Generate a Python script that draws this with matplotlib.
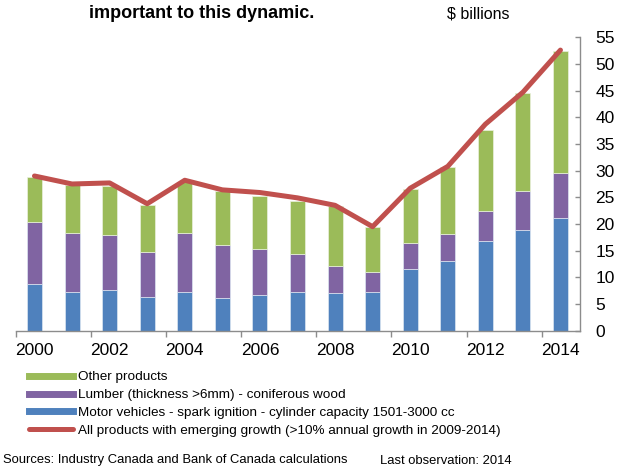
import matplotlib
matplotlib.use("Agg")
import matplotlib.pyplot as plt
from matplotlib.lines import Line2D
import numpy as np

plt.rcParams['font.family'] = ['Liberation Sans', 'DejaVu Sans']

years = [2000, 2001, 2002, 2003, 2004, 2005, 2006, 2007, 2008, 2009, 2010, 2011, 2012, 2013, 2014]
motor_vehicles = [8.8, 7.3, 7.7, 6.3, 7.3, 6.2, 6.7, 7.3, 7.0, 7.3, 11.6, 13.0, 16.9, 18.8, 21.2]
lumber = [11.5, 11.0, 10.3, 8.4, 11.0, 9.8, 8.6, 7.0, 5.1, 3.7, 4.8, 5.2, 5.6, 7.3, 8.3]
other_products = [8.6, 9.1, 9.2, 8.9, 9.5, 10.1, 10.0, 10.1, 11.3, 8.4, 10.2, 12.4, 15.2, 18.4, 22.9]
all_emerging = [29.0, 27.5, 27.7, 23.8, 28.2, 26.4, 25.9, 24.9, 23.5, 19.5, 26.7, 30.8, 38.7, 44.7, 52.6]

blue = '#4F81BD'
purple = '#8064A2'
green = '#9BBB59'
red = '#C0504D'
grey = '#8C8C8C'

fig = plt.figure(figsize=(6.18, 4.69), dpi=100)
ax = fig.add_axes([0.0254, 0.2949, 0.9131, 0.6256])

x = np.arange(len(years))
mv = np.array(motor_vehicles)
lb = np.array(lumber)
ot = np.array(other_products)

ax.bar(x, mv, 0.4, color=blue, edgecolor='#DCE6F2', linewidth=0.5, zorder=2)
ax.bar(x, lb, 0.4, bottom=mv, color=purple, edgecolor='#DCE6F2', linewidth=0.5, zorder=2)
ax.bar(x, ot, 0.4, bottom=mv + lb, color=green, edgecolor='#EBF1DE', linewidth=0.5, zorder=2)
ax.plot(x, all_emerging, color=red, lw=3.6, solid_capstyle='round', solid_joinstyle='round', zorder=3)

ax.set_xlim(-0.5, 14.52)
ax.set_ylim(0, 55)

# y axis on the right
ax.yaxis.tick_right()
ax.set_yticks(range(0, 56, 5))
ax.tick_params(axis='y', direction='in', length=3.6, width=1, color=grey, pad=11, labelsize=12.5)

# x labels every second year, ticks at category edges
ax.set_xticks(x[::2])
ax.set_xticklabels([str(y) for y in years[::2]])
ax.set_xticks(np.arange(-0.5, 14, 2), minor=True)
ax.tick_params(axis='x', which='major', length=0, pad=9, labelsize=12.5)
ax.tick_params(axis='x', which='minor', direction='out', length=4, width=1, color=grey)

for s in ['top', 'left']:
    ax.spines[s].set_visible(False)
for s in ['bottom', 'right']:
    ax.spines[s].set_color(grey)
    ax.spines[s].set_linewidth(1)

fig.text(202 / 618, 1 - 14 / 469, 'important to this dynamic.', fontsize=13, fontweight='bold',
         ha='center', va='center')
fig.text(478 / 618, 1 - 14 / 469, '$ billions', fontsize=11.5, ha='center', va='center')

handles = [
    Line2D([], [], color=green, lw=5),
    Line2D([], [], color=purple, lw=5),
    Line2D([], [], color=blue, lw=5),
    Line2D([], [], color=red, lw=3.6, solid_capstyle='round'),
]
labels = [
    'Other products',
    'Lumber (thickness >6mm) - coniferous wood',
    'Motor vehicles - spark ignition - cylinder capacity 1501-3000 cc',
    'All products with emerging growth (>10% annual growth in 2009-2014)',
]
fig.legend(handles, labels, loc='upper left', bbox_to_anchor=(29 / 618, 1 - 371 / 469),
           frameon=False, fontsize=9.7, borderpad=0, borderaxespad=0,
           handlelength=3.3, handletextpad=0.37, labelspacing=0.4)

fig.text(3 / 618, 1 - 460 / 469, 'Sources: Industry Canada and Bank of Canada calculations',
         fontsize=9.4, ha='left', va='center')
fig.text(512 / 618, 1 - 461 / 469, 'Last observation: 2014', fontsize=9.4, ha='right', va='center')

fig.savefig('out.png', dpi=100)
